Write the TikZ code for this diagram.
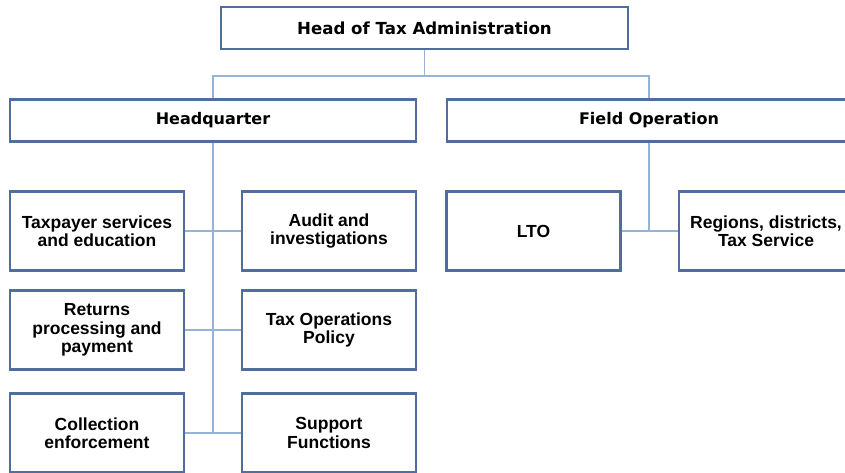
\documentclass[tikz,border=0pt]{standalone}
\usepackage{fontspec}
\setmainfont{Liberation Sans}
\newfontfamily\headfont{DejaVu Sans}
\definecolor{boxline}{RGB}{79,110,158}
\definecolor{linkblue}{RGB}{149,179,215}

\begin{document}
\begin{tikzpicture}[x=1pt,y=-1pt,
					top box/.style={draw=boxline,line width=2.9pt,fill=white,inner sep=0pt,
						minimum height=42pt,font=\headfont\bfseries\fontsize{16}{18}\selectfont},
					unit box/.style={draw=boxline,line width=2.9pt,fill=white,inner sep=0pt,
						align=center,minimum width=174pt,minimum height=79pt,
						font=\bfseries\fontsize{17.5}{18.5}\selectfont},
					link/.style={draw=linkblue,line width=1.8pt}]

  \useasboundingbox (0,0) rectangle (845,472);
  \clip (0,0) rectangle (845,472);
  \fill[white] (0,0) rectangle (845,472);

  % top levels
  \node[top box,minimum width=407pt,font=\headfont\bfseries\fontsize{16.6}{18}\selectfont]
    (head) at (424.5,28) {Head of Tax Administration};
  \node[top box,minimum width=406pt] (hq) at (213,120.5) {Headquarter};
  \node[top box,minimum width=404pt] (field) at (649,120.5) {Field Operation};

  % headquarter units
  \node[unit box] (taxpayer) at (97,231) {Taxpayer services\\and education};
  \node[unit box] (audit) at (329,231) {Audit and\\investigations};
  \node[unit box] (returns) at (97,330) {Returns\\processing and\\payment};
  \node[unit box] (policy) at (329,330) {Tax Operations\\Policy};
  \node[unit box] (collect) at (97,433) {Collection\\enforcement};
  \node[unit box] (support) at (329,433) {Support\\Functions};

  % field units
  \node[unit box] (lto) at (533.5,231) {LTO};
  \node[unit box] (regions) at (766,231) {Regions, districts,\\Tax Service};

  \coordinate (split) at (424.5,76);
  \draw[link] (head) -- (split);
  \draw[link] (hq.north) |- (split) -| (field.north);
  \draw[link] (hq.south) -- (hq.south |- collect.east);
  \draw[link] (field.south) -- (field.south |- lto.east);

  \path[link]
    (taxpayer) edge (audit)
    (returns) edge (policy)
    (collect) edge (support)
    (lto) edge (regions);
\end{tikzpicture}
\end{document}
